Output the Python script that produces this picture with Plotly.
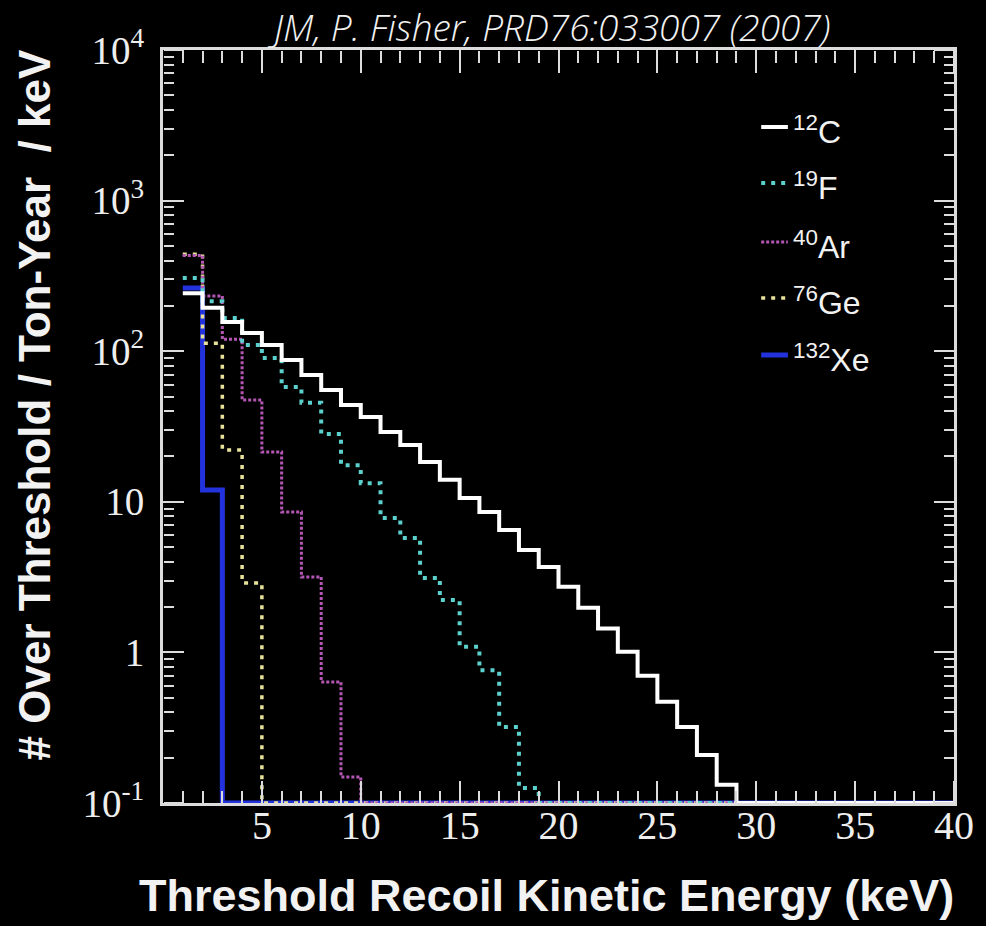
import plotly.graph_objects as go

# ---- data (bin edges 1..40 keV, 1 keV wide bins; counts per bin) ----
bin_edges = list(range(1, 41))
carbon12 = [243, 194, 156, 132, 110, 87.4, 69.5, 55.2, 43.9, 36.6, 29.1, 23.8,
            18.4, 14.0, 10.6, 8.55, 6.50, 4.79, 3.69, 2.73, 1.98, 1.44, 1.01,
            0.70, 0.47, 0.32, 0.208, 0.132] + [0] * 11
fluorine19 = [306, 215, 166, 110, 90, 57.8, 45.4, 28.2, 17.5, 13.3, 7.8, 5.75,
              3.12, 2.23, 1.09, 0.76, 0.32, 0.126] + [0] * 21
argon40 = [432, 233, 120, 47.4, 21.4, 8.55, 3.17, 0.636, 0.149] + [0] * 30
germanium76 = [440, 113, 22.1, 2.89] + [0] * 35
xenon132 = [263, 12.0] + [0] * 37

series_names = ["<sup>12</sup>C", "<sup>19</sup>F", "<sup>40</sup>Ar",
                "<sup>76</sup>Ge", "<sup>132</sup>Xe"]
x_tick_vals = [5, 10, 15, 20, 25, 30, 35, 40]
y_tick_vals = [0.1, 1, 10, 100, 1000, 10000]
y_tick_text = ["10<sup>-1</sup>", "1", "10", "10<sup>2</sup>", "10<sup>3</sup>", "10<sup>4</sup>"]
x_minor_vals = [v for v in range(1, 40) if v % 5]
y_minor_vals = [m * 10 ** e for e in range(-1, 4) for m in range(2, 10)]

FLOOR = 0.1  # empty bins sit on the lower edge of the log axis

styles = {
    "<sup>12</sup>C": dict(color="#ffffff", width=4, dash="solid"),
    "<sup>19</sup>F": dict(color="#5cd0cc", width=4, dash="4px,6px"),
    "<sup>40</sup>Ar": dict(color="#b457b4", width=3, dash="3px,2px"),
    "<sup>76</sup>Ge": dict(color="#e8e29a", width=3.5, dash="4px,6px"),
    "<sup>132</sup>Xe": dict(color="#2233dd", width=5, dash="solid"),
}
data = dict(zip(series_names, [carbon12, fluorine19, argon40, germanium76, xenon132]))

# each series lives on an identical-range axis pair; the extra pairs carry the tick sets
axis_pair = {
    "<sup>132</sup>Xe": ("x", "y"),
    "<sup>76</sup>Ge": ("x2", "y2"),
    "<sup>40</sup>Ar": ("x3", "y3"),
    "<sup>19</sup>F": ("x4", "y4"),
    "<sup>12</sup>C": ("x5", "y5"),
}

fig = go.Figure()
for name in reversed(series_names):  # Xe, Ge, Ar, F, C  (C drawn last)
    vals = [max(v, FLOOR) for v in data[name]]
    ys = vals + [vals[-1]]
    st = styles[name]
    xa, ya = axis_pair[name]
    fig.add_trace(go.Scatter(x=bin_edges, y=ys, mode="lines", line_shape="hv",
                             xaxis=xa, yaxis=ya,
                             line=dict(color=st["color"], width=st["width"], dash=st["dash"]),
                             name=name, showlegend=False, hoverinfo="skip"))

L, R, T, B = 163, 963, 50, 803
W, H = 986, 926
def px(x):
    return (x - L) / (R - L)
def py(y):
    return (B - y) / (B - T)

axis_col = "#dcdcdc"
XR = [0, 40]
YR = [-1, 4]

# main axes: frame + tick labels
fig.update_layout(
    xaxis=dict(range=XR, side="bottom", tickvals=x_tick_vals, ticks="inside", ticklen=22,
               tickwidth=2, tickcolor=axis_col, showline=True, linecolor=axis_col, linewidth=3,
               mirror="ticks", showgrid=False, zeroline=False, ticklabelstandoff=-15,
               tickfont=dict(family="Liberation Serif", size=40, color="#eeeeee")),
    yaxis=dict(type="log", range=YR, side="left", tickvals=y_tick_vals, ticktext=y_tick_text,
               ticks="inside", ticklen=20, tickwidth=2, tickcolor=axis_col,
               showline=True, linecolor=axis_col, linewidth=3, mirror="ticks",
               showgrid=False, zeroline=False, ticklabelstandoff=8,
               tickfont=dict(family="Liberation Serif", size=39, color="#eeeeee")),
)

# tick-carrying overlay axes: placed on the opposite edge with flipped side,
# so that their outward ticks point into the plot area (ROOT style)
def xtick_axis(side, position, vals, length):
    return dict(range=XR, overlaying="x", anchor="free", position=position, side=side,
                tickvals=vals, ticks="outside", ticklen=length, tickwidth=2, tickcolor=axis_col,
                showticklabels=False, showline=False, showgrid=False, zeroline=False)

def ytick_axis(side, position, vals, length):
    return dict(type="log", range=YR, overlaying="y", anchor="free", position=position,
                side=side, tickvals=vals, ticks="outside", ticklen=length, tickwidth=2,
                tickcolor=axis_col, showticklabels=False, showline=False, showgrid=False,
                zeroline=False)

fig.update_layout(
    xaxis2=xtick_axis("top", 0, x_tick_vals, 22),      # bottom edge, pointing up
    xaxis3=xtick_axis("bottom", 1, x_tick_vals, 22),   # top edge, pointing down
    xaxis4=xtick_axis("top", 0, x_minor_vals, 12),
    xaxis5=xtick_axis("bottom", 1, x_minor_vals, 12),
    yaxis2=ytick_axis("right", 0, y_tick_vals, 20),    # left edge, pointing right
    yaxis3=ytick_axis("left", 1, y_tick_vals, 20),     # right edge, pointing left
    yaxis4=ytick_axis("right", 0, y_minor_vals, 10),
    yaxis5=ytick_axis("left", 1, y_minor_vals, 10),
)

legend_y = [127, 183, 242, 298, 355]
for name, ly in zip(series_names, legend_y):
    st = styles[name]
    fig.add_shape(type="line", xref="paper", yref="paper", x0=px(768), x1=px(795),
                  y0=py(ly), y1=py(ly),
                  line=dict(color=st["color"], width=st["width"], dash=st["dash"]))
    fig.add_annotation(xref="paper", yref="paper", x=px(798), y=py(ly + 3), text=name,
                       showarrow=False, xanchor="left", yanchor="middle",
                       font=dict(family="Liberation Sans", size=32, color="#f2f2f2"))

fig.add_annotation(xref="paper", yref="paper", x=px(551), y=py(896),
                   text="<b>Threshold Recoil Kinetic Energy (keV)</b>", showarrow=False,
                   xanchor="center", yanchor="middle",
                   font=dict(family="Liberation Sans", size=45, color="#f2f2f2"))
fig.add_annotation(xref="paper", yref="paper", x=px(33), y=py(405),
                   text="<b># Over Threshold / Ton-Year  / keV</b>", showarrow=False,
                   textangle=-90, xanchor="center", yanchor="middle",
                   font=dict(family="Liberation Sans", size=44, color="#f2f2f2"))
fig.add_annotation(xref="paper", yref="paper", x=px(553), y=py(26),
                   text="<i>JM, P. Fisher, PRD76:033007 (2007)</i>", showarrow=False,
                   xanchor="center", yanchor="middle",
                   font=dict(family="Open Sans", size=37, color="#f2f2f2", weight=300))

fig.update_layout(width=W, height=H, margin=dict(l=L, r=W - R, t=T, b=H - B),
                  paper_bgcolor="black", plot_bgcolor="rgba(0,0,0,0)", showlegend=False)

fig.write_html("out.html")
